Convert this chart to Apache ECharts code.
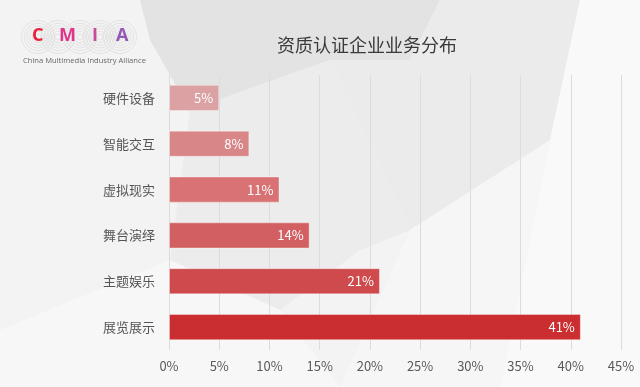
<!DOCTYPE html>
<html><head><meta charset="utf-8">
<script src="https://cdn.jsdelivr.net/npm/echarts@6/dist/echarts.min.js"></script>
<style>html,body{margin:0;padding:0;background:#f3f3f3}#c{width:640px;height:387px}</style>
</head><body><div id="c"></div>
<script>
const categories = ['展览展示','主题娱乐','舞台演绎','虚拟现实','智能交互','硬件设备'];
const values = [41, 21, 14, 11, 8, 5];
const barColors = ['#cb2e30','#ce4a4c','#d26062','#d87274','#d98688','#dca1a3'];
const xTicks = [0,5,10,15,20,25,30,35,40,45];

const chart = echarts.init(document.getElementById('c'));
const font = '"Microsoft YaHei","Noto Sans CJK SC",sans-serif';

function rings(cx, cy) {
  const arr = [];
  for (let r = 3; r <= 19; r += 2.7) {
    arr.push({type:'circle', shape:{cx:cx, cy:cy, r:r}, style:{fill:null, stroke:'#d2d2d2', lineWidth:0.5}, silent:true});
  }
  return arr;
}
let logoRings = [];
[[38,37],[58,37],[80,37],[100,37],[120,37]].forEach(p => { logoRings = logoRings.concat(rings(p[0], p[1])); });

chart.setOption({
  backgroundColor: '#f3f3f3',
  animation: false,
  title: {
    text: '资质认证企业业务分布',
    left: 362, top: 31, textAlign: 'center',
    textStyle: {fontFamily: font, fontSize: 18, fontWeight: 'normal', color: '#3a3a3a'}
  },
  graphic: [
    {type:'polygon', z:-10, shape:{points:[[140,0],[440,0],[410,60],[330,60],[190,110],[150,40]]}, style:{fill:'#e3e3e4'}, silent:true},
    {type:'polygon', z:-10, shape:{points:[[440,0],[580,0],[550,140],[410,230],[330,60],[410,60]]}, style:{fill:'#ebebec'}, silent:true},
    {type:'polygon', z:-10, shape:{points:[[190,110],[330,60],[410,230],[360,250],[280,310],[170,260]]}, style:{fill:'#ececec'}, silent:true},
    {type:'polygon', z:-10, shape:{points:[[580,0],[640,0],[640,387],[500,387],[550,140]]}, style:{fill:'#f9f9f9'}, silent:true},
    {type:'polygon', z:-10, shape:{points:[[410,230],[550,140],[500,387],[340,387]]}, style:{fill:'#f6f6f6'}, silent:true},
    {type:'polygon', z:-10, shape:{points:[[0,330],[170,260],[280,310],[340,387],[0,387]]}, style:{fill:'#f7f7f7'}, silent:true},
    {type:'group', z:-5, children: logoRings},
    {type:'text', left: 32, top: 27, style:{text:'C', fill:'#e8203c', font:'bold 18px "Open Sans",sans-serif'}},
    {type:'text', left: 59, top: 27, style:{text:'M', fill:'#e1358c', font:'bold 18px "Open Sans",sans-serif'}},
    {type:'text', left: 92, top: 27, style:{text:'I', fill:'#c8489e', font:'bold 18px "Open Sans",sans-serif'}},
    {type:'text', left: 116, top: 27, style:{text:'A', fill:'#9459b5', font:'bold 18px "Open Sans",sans-serif'}},
    {type:'text', left: 23, top: 57, style:{text:'China Multimedia Industry Alliance', fill:'#666', font:'7.6px "Open Sans",sans-serif'}}
  ],
  grid: {left: 169, right: 19, top: 75, bottom: 37, containLabel: false},
  xAxis: {
    type: 'value', min: 0, max: 45, interval: 5,
    axisLine: {show: false}, axisTick: {show: false},
    splitLine: {show: true, lineStyle: {color: '#dcdcdc', width: 1}},
    axisLabel: {formatter: v => v + '%', color: '#595959', fontSize: 13, fontFamily: font, margin: 10}
  },
  yAxis: {
    type: 'category', data: categories,
    axisLine: {show: false}, axisTick: {show: false},
    axisLabel: {color: '#555', fontSize: 13, fontFamily: font, margin: 14}
  },
  series: [{
    type: 'bar',
    data: values.map((v, i) => ({value: v, itemStyle: {color: barColors[i]}})),
    barWidth: '57%',
    itemStyle: {borderColor: 'rgba(255,255,255,0.35)', borderWidth: 1},
    label: {show: true, position: 'insideRight', formatter: '{c}%', color: '#fff', fontSize: 13, fontFamily: font, distance: 6}
  }]
});
</script></body></html>
